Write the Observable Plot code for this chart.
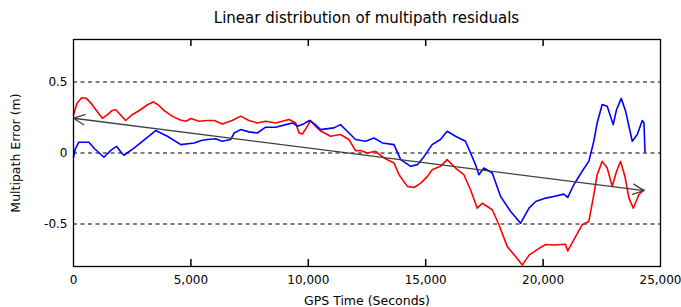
<!DOCTYPE html>
<html>
<head>
<meta charset="utf-8">
<script src="https://cdn.jsdelivr.net/npm/d3@7"></script>
<script src="https://cdn.jsdelivr.net/npm/@observablehq/plot@0.6"></script>
<style>
  html, body { margin: 0; padding: 0; background: #fff; }
  #wrap { width: 681px; height: 307px; overflow: hidden; font-family: "DejaVu Sans", sans-serif; }
  #title { height: 30px; box-sizing: border-box; padding-top: 9px; padding-left: 73px; width: 660px;
           text-align: center; font-size: 15px; line-height: 18px; color: #000; }
</style>
</head>
<body>
<div id="wrap">
  <div id="title">Linear distribution of multipath residuals</div>
  <div id="chart"></div>
</div>
<script>
// Red series (GPS time in seconds, multipath error in m)
const redT = [0,150,350,550,750,1000,1230,1450,1650,1800,2000,2220,2500,2850,3150,3400,3600,3850,4200,4550,4800,5000,5340,5700,6000,6333,6760,7117,7470,7830,8185,8610,9180,9466,9607,9750,9964,10090,10300,10550,10944,11370,11730,12013,12225,12510,12866,13224,13650,13865,14220,14505,14790,15075,15275,15630,15915,16270,16625,16910,17195,17408,17836,18120,18475,18830,19115,19400,19827,20112,20454,20950,21050,21307,21662,21947,22160,22303,22516,22730,22943,23130,23300,23485,23655,23840,24080,24296];
const redV = [0.27,0.35,0.39,0.385,0.35,0.295,0.245,0.27,0.30,0.305,0.27,0.229,0.27,0.305,0.34,0.36,0.34,0.30,0.26,0.232,0.224,0.243,0.224,0.229,0.229,0.205,0.229,0.26,0.229,0.212,0.224,0.212,0.236,0.212,0.141,0.134,0.189,0.229,0.19,0.153,0.118,0.13,0.095,0.017,0.017,0.0,0.012,-0.035,-0.07,-0.153,-0.235,-0.243,-0.212,-0.165,-0.118,-0.094,-0.047,-0.106,-0.153,-0.259,-0.389,-0.354,-0.4,-0.506,-0.66,-0.73,-0.79,-0.72,-0.672,-0.645,-0.648,-0.643,-0.69,-0.613,-0.506,-0.483,-0.294,-0.153,-0.059,-0.106,-0.235,-0.129,-0.059,-0.165,-0.318,-0.389,-0.294,-0.259];

// Blue series
const blueT = [0,80,227,655,900,1295,1600,1836,2000,2150,2575,3146,3500,4000,4570,5140,5480,5710,6050,6333,6690,6845,7117,7470,7827,8185,8612,9040,9323,9537,9800,10050,10300,10517,11090,11370,11657,12013,12440,12797,13152,13650,13935,14362,14647,14932,15275,15630,15915,16270,16695,16910,17123,17265,17478,17836,18190,18617,19044,19400,19685,20112,20454,20880,21050,21307,21662,21947,22160,22303,22516,22730,22986,23130,23327,23514,23797,24010,24224,24296,24340];
const blueV = [-0.03,0.03,0.076,0.076,0.03,-0.03,0.02,0.047,0.01,-0.016,0.035,0.11,0.158,0.118,0.059,0.071,0.09,0.095,0.1,0.083,0.095,0.141,0.165,0.149,0.141,0.182,0.182,0.2,0.212,0.189,0.205,0.229,0.2,0.165,0.177,0.2,0.153,0.095,0.083,0.106,0.071,0.059,-0.047,-0.094,-0.082,-0.024,0.059,0.095,0.153,0.118,0.083,0.0,-0.082,-0.153,-0.106,-0.141,-0.306,-0.412,-0.495,-0.389,-0.342,-0.318,-0.306,-0.29,-0.313,-0.224,-0.129,-0.059,0.083,0.212,0.342,0.33,0.2,0.307,0.385,0.295,0.083,0.13,0.229,0.212,0.007];

// Linear trend (double-headed arrow) end points
const trendT = [0, 24300];
const trendV = [0.245, -0.265];

const xTicks = [0, 5000, 10000, 15000, 20000, 25000];
const innerTicks = [5000, 10000, 15000, 20000];
const yTicks = [-0.5, 0, 0.5];
const xDomain = [0, 25000];
const yDomain = [-0.8, 0.8];

const red = redT.map((t, i) => ({t, v: redV[i]}));
const blue = blueT.map((t, i) => ({t, v: blueV[i]}));
const midT = (trendT[0] + trendT[1]) / 2, midV = (trendV[0] + trendV[1]) / 2;
const arrows = trendT.map((t, i) => ({x1: midT, y1: midV, x2: t, y2: trendV[i]}));

const H = 277, MT = 9, MB = 41, TICK = 7;
const inner = H - MT - MB;
const tickLen = (yDomain[1] - yDomain[0]) * TICK / inner; // tick length expressed in y units
const fmt = d3.format(",");
const chart = Plot.plot({
  width: 681,
  height: H,
  marginTop: MT,
  marginBottom: MB,
  marginLeft: 73,
  marginRight: 21,
  style: {fontFamily: "DejaVu Sans, sans-serif", fontSize: "12px", color: "#000", background: "#fff"},
  x: {domain: xDomain},
  y: {domain: yDomain},
  marks: [
    Plot.gridY(yTicks, {stroke: "#000", strokeOpacity: 1, strokeDasharray: "4,3.5", strokeWidth: 1.1}),
    Plot.line(red, {x: "t", y: "v", stroke: "#ff0000", strokeWidth: 1.6}),
    Plot.line(blue, {x: "t", y: "v", stroke: "#0000ff", strokeWidth: 1.6}),
    Plot.arrow(arrows, {x1: "x1", y1: "y1", x2: "x2", y2: "y2", stroke: "#404040", strokeWidth: 1.3, headLength: 14, headAngle: 50}),
    Plot.frame({stroke: "#000", strokeWidth: 1.3}),
    Plot.ruleX(innerTicks, {x: d => d, y1: yDomain[0], y2: yDomain[0] + tickLen, stroke: "#000", strokeWidth: 1.5}),
    Plot.ruleX(innerTicks, {x: d => d, y1: yDomain[1] - tickLen, y2: yDomain[1], stroke: "#000", strokeWidth: 1.5}),
    Plot.axisX(xTicks, {anchor: "bottom", tickSize: 0, tickPadding: 9, tickFormat: fmt, fontSize: 12, label: null}),
    Plot.axisX({anchor: "bottom", ticks: [], tickSize: 0, label: "GPS Time (Seconds)", labelArrow: false, labelAnchor: "center", labelOffset: 38, fontSize: 12.5}),
    Plot.axisY(yTicks, {anchor: "left", tickSize: 0, tickPadding: 6, tickFormat: d => d === 0 ? "0" : String(d), fontSize: 12, label: null}),
    Plot.axisY({anchor: "left", ticks: [], tickSize: 0, label: "Multipath Error (m)", labelArrow: false, labelAnchor: "center", labelOffset: 62, fontSize: 12.5})
  ]
});
document.getElementById("chart").appendChild(chart);
</script>
</body>
</html>
